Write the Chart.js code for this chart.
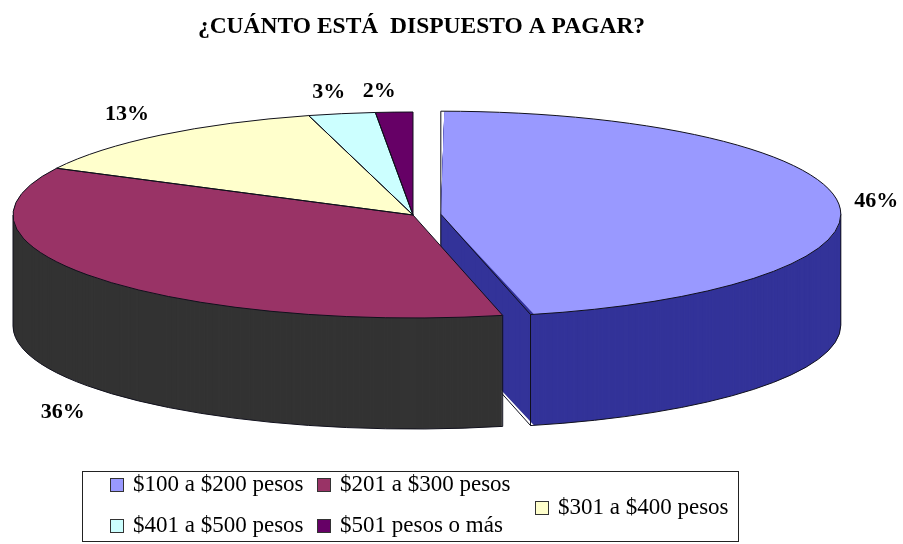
<!DOCTYPE html>
<html>
<head>
<meta charset="utf-8">
<style>html,body{margin:0;padding:0;background:#fff}canvas{display:block}</style>
<script src="https://cdn.jsdelivr.net/npm/chart.js@4"></script>
</head>
<body>
<canvas id="c" width="903" height="544"></canvas>
<script>
const titleText = '¿CUÁNTO ESTÁ  DISPUESTO A PAGAR?';
const categories = ['$100 a $200 pesos', '$201 a $300 pesos', '$301 a $400 pesos', '$401 a $500 pesos', '$501 pesos o más'];
const shares = [46.4, 36.1, 13.3, 2.7, 1.5];
const topColors = ['#9999FF', '#993366', '#FFFFCC', '#CCFFFF', '#660066'];
const wallColors = ['#333399', '#333333', '#808066', '#669999', '#330033'];
const labelNudges = [[38, -1], [-35, 134], [-34, -21], [-13, -21], [-15, -21]];
const legendSlots = [[110, 485], [317, 485], [535, 508], [110, 526], [317, 526]];

const SERIF = '"Liberation Serif","Times New Roman",serif';
const R = 150, RX = 400, RY = 103, CX = 413, CY = 215, DEPTH = 111, EXPLODE = 42, LINE = '#10101c';
const wallOrder = [4, 3, 2, 0, 1];

function geom(arc, i) {
  const off = i === 0 ? EXPLODE / 4 : 0;
  const mid = (arc.startAngle + arc.endAngle) / 2;
  return {x: CX + Math.cos(mid) * off * RX / R, y: CY + Math.sin(mid) * off * RY / R, mid};
}
function slicePath(ctx, arc, i) {
  const g = geom(arc, i);
  ctx.beginPath();
  ctx.moveTo(g.x, g.y);
  ctx.ellipse(g.x, g.y, RX, RY, 0, arc.startAngle, arc.endAngle);
  ctx.closePath();
  ctx.stroke();
}
function rim(ctx, arc, i) {
  const g = geom(arc, i);
  ctx.beginPath();
  ctx.ellipse(g.x, g.y + DEPTH, RX, RY, 0, Math.max(arc.startAngle, 0), Math.min(arc.endAngle, Math.PI));
  if (i === 0) ctx.lineTo(g.x, g.y + DEPTH);
  ctx.stroke();
}
function vertical(ctx, x, y) {
  ctx.beginPath();
  ctx.moveTo(x, y);
  ctx.lineTo(x, y + DEPTH);
  ctx.stroke();
}
function toPie(ctx, arc, dy) {
  ctx.translate(CX, CY + dy);
  ctx.scale(RX / R, RY / R);
  ctx.translate(-arc.x, -arc.y);
}
const pie3d = {
  id: 'pie3d',
  beforeDatasetsDraw(chart) {
    const ctx = chart.ctx, arcs = chart.getDatasetMeta(0).data;
    const a0 = arcs[0], circ = a0.endAngle - a0.startAngle;
    a0.outerRadius = R - (1 - Math.sin(Math.min(Math.PI, circ))) * EXPLODE / 4;
    ctx.lineWidth = 1;
    ctx.strokeStyle = LINE;
    wallOrder.forEach(i => {
      const arc = arcs[i];
      const shade = Object.create(arc);
      shade.options = Object.create(arc.options, {
        backgroundColor: {value: wallColors[i]},
        borderWidth: {value: 0}
      });
      for (let d = DEPTH; d >= 1; d--) {
        ctx.save();
        toPie(ctx, arc, d);
        shade.draw(ctx);
        ctx.restore();
      }
      const g = geom(arc, i);
      if (i < 2) rim(ctx, arc, i);
      const at = a => vertical(ctx, g.x + Math.cos(a) * RX, g.y + Math.sin(a) * RY);
      if (i === 0) { at(arc.endAngle); at(0); vertical(ctx, g.x, g.y); }
      if (i === 1) { at(arc.startAngle); at(Math.PI); }
    });
    ctx.save();
    toPie(ctx, arcs[0], 0);
  },
  afterDatasetsDraw(chart) {
    const ctx = chart.ctx, arcs = chart.getDatasetMeta(0).data;
    ctx.restore();
    ctx.lineWidth = 1;
    ctx.strokeStyle = LINE;
    arcs.forEach((arc, i) => slicePath(ctx, arc, i));
    ctx.fillStyle = '#000';
    ctx.font = 'bold 22px ' + SERIF;
    ctx.textAlign = 'center';
    ctx.textBaseline = 'middle';
    arcs.forEach((arc, i) => {
      const g = geom(arc, i);
      const x = g.x + Math.cos(g.mid) * RX + labelNudges[i][0];
      const y = g.y + Math.sin(g.mid) * RY + labelNudges[i][1];
      ctx.fillText(Math.round(shares[i]) + '%', x, y);
    });
    ctx.strokeStyle = '#222';
    ctx.strokeRect(82.5, 471.5, 656, 70);
    ctx.font = '23px ' + SERIF;
    ctx.textAlign = 'left';
    categories.forEach((name, i) => {
      const [x, y] = legendSlots[i];
      ctx.fillStyle = topColors[i];
      ctx.fillRect(x + .5, y - 6.5, 13, 13);
      ctx.strokeStyle = '#333';
      ctx.strokeRect(x + .5, y - 6.5, 13, 13);
      ctx.fillStyle = '#000';
      ctx.fillText(name, x + 23, y);
    });
  }
};
new Chart(document.getElementById('c'), {
  type: 'pie',
  data: {
    labels: categories,
    datasets: [{
      data: shares,
      backgroundColor: topColors,
      borderWidth: 0,
      offset: shares.map((_, i) => i === 0 ? EXPLODE : 0),
      clip: false
    }]
  },
  plugins: [pie3d],
  options: {
    responsive: false,
    animation: false,
    events: [],
    radius: R,
    layout: {padding: {right: 60}},
    plugins: {
      legend: {display: false},
      tooltip: {enabled: false},
      title: {
        display: true,
        text: titleText,
        color: '#000',
        font: {family: SERIF, size: 23.5, weight: 'bold'},
        padding: {top: 13, bottom: 10}
      }
    }
  }
});
</script>
</body>
</html>
